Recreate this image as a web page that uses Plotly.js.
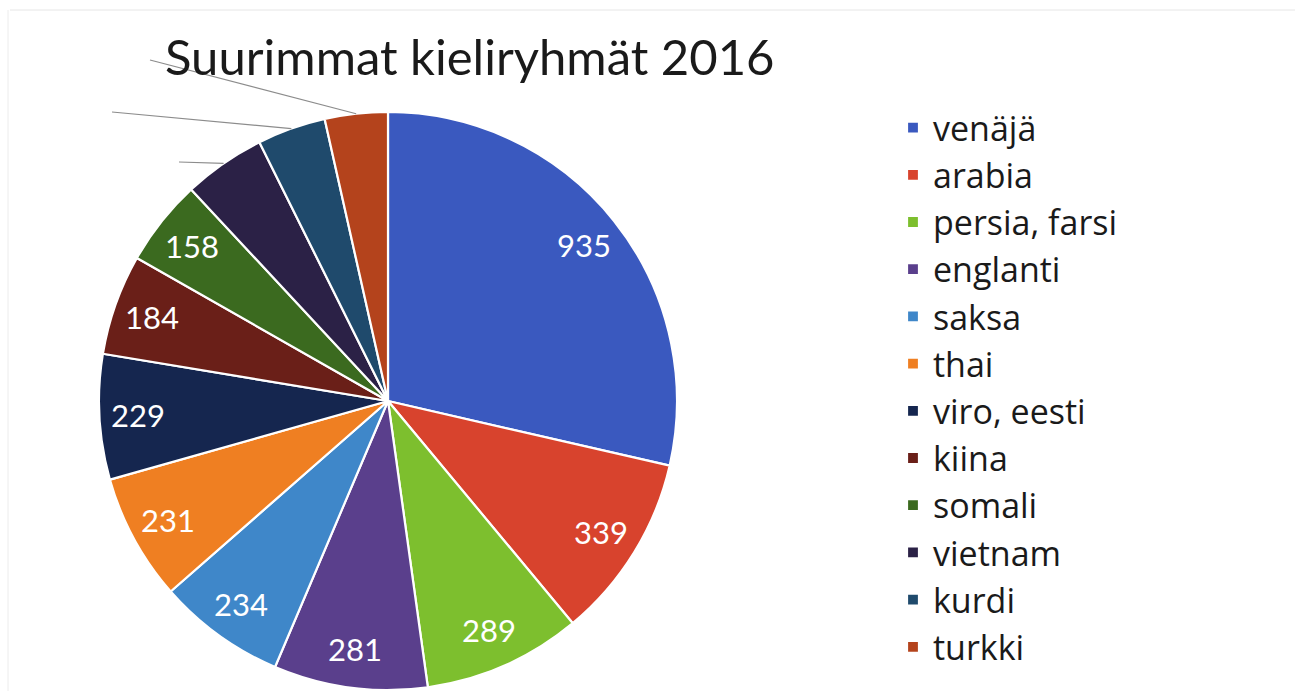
<!DOCTYPE html>
<html>
<head>
<meta charset="utf-8">
<script src="https://cdn.plot.ly/plotly-3.0.1.min.js"></script>
<style>html,body{margin:0;padding:0;background:#fff;}#chart{width:1295px;height:691px;}</style>
</head>
<body>
<div id="chart"></div>
<script>
const languages = ["venäjä","arabia","persia, farsi","englanti","saksa","thai","viro, eesti","kiina","somali","vietnam","kurdi","turkki"];
const speakers = [935,339,289,281,234,231,229,184,158,150,125,115];
const sliceColors = ["#3a59bf","#d8432d","#7dbf2e","#5a3f8c","#3f87c9","#ef7f22","#15264f","#6a1f18","#3b6a1f","#2b2146","#1f4a6c","#b4431c"];
const shownLabels = [true,true,true,true,true,true,true,true,true,false,false,false];

const W = 1295, H = 691;
const cx = 388, cy = 401, R = 289;
const labelRadius = 0.865;
const leaderEnds = [[179,162],[112,112],[150,60]]; // vietnam, kurdi, turkki label anchors

const total = speakers.reduce((a,b)=>a+b,0);
const shapes = [];
const annotations = [];
let cum = 0;
let k = 0;
speakers.forEach((v,i)=>{
  const mid = (cum + v/2)/total*2*Math.PI;
  cum += v;
  if (shownLabels[i]) {
    const lx = cx + labelRadius*R*Math.sin(mid), ly = cy - labelRadius*R*Math.cos(mid);
    annotations.push({xref:'paper', yref:'paper', x: lx/W, y: 1 - ly/H, text: String(v),
      showarrow:false, xanchor:'center', yanchor:'middle',
      font:{family:'Lato, "Open Sans", sans-serif', size:31, color:'#ffffff'}});
  } else {
    const sx = cx + R*Math.sin(mid), sy = cy - R*Math.cos(mid);
    const e = leaderEnds[k++];
    shapes.push({type:'line', xref:'paper', yref:'paper',
      x0: sx/W, y0: 1 - sy/H, x1: e[0]/W, y1: 1 - e[1]/H,
      line:{color:'#8c8c8c', width:1.2}});
  }
});
shapes.push({type:'line', xref:'paper', yref:'paper', x0:10/W, x1:1, y0:1-10/H, y1:1-10/H, line:{color:'#e6e6e6', width:1}});
shapes.push({type:'line', xref:'paper', yref:'paper', x0:8/W, x1:8/W, y0:0, y1:1-10/H, line:{color:'#ececec', width:1}});

const trace = {
  type:'pie',
  labels: languages,
  values: speakers,
  sort:false,
  direction:'clockwise',
  rotation:0,
  marker:{colors:sliceColors, line:{color:'#ffffff', width:2.2}},
  textinfo:'none',
  textposition:'none',
  hoverinfo:'label+value',
  domain:{x:[(cx-R)/W,(cx+R)/W], y:[1-(cy+R)/H, 1-(cy-R)/H]},
  showlegend:true
};

const layout = {
  width:W, height:H,
  margin:{l:0,r:0,t:0,b:0},
  paper_bgcolor:'#ffffff',
  plot_bgcolor:'#ffffff',
  title:{text:'Suurimmat kieliryhmät 2016', x:165/W, xanchor:'left', y:1-58/H, yanchor:'middle',
    font:{family:'Lato, "Open Sans", sans-serif', size:49, color:'#1a1a1a'}},
  legend:{x:893/W, xanchor:'left', y:1-99/H, yanchor:'top',
    font:{family:'"Open Sans", sans-serif', size:34, color:'#1a1a1a'},
    itemwidth:30, tracegroupgap:0, bgcolor:'rgba(0,0,0,0)'},
  shapes: shapes,
  annotations: annotations
};

Plotly.newPlot('chart',[trace],layout,{displayModeBar:false, staticPlot:true});
</script>
</body>
</html>
